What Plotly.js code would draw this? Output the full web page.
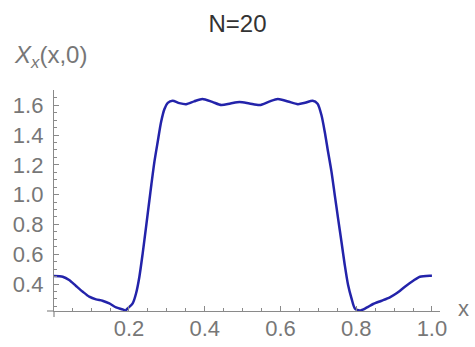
<!DOCTYPE html>
<html>
<head>
<meta charset="utf-8">
<script src="https://cdn.plot.ly/plotly-3.0.1.min.js"></script>
<style>html,body{margin:0;padding:0;background:#fff;}#chart{width:475px;height:347px;}</style>
</head>
<body>
<div id="chart"></div>
<script>
// Values
var xValues = [0, 0.025, 0.042, 0.06, 0.078, 0.095, 0.113, 0.13, 0.148, 0.166, 0.1833, 0.1905, 0.1966, 0.2098, 0.2188, 0.2275, 0.2362, 0.2452, 0.254, 0.2593, 0.2672, 0.2759, 0.2849, 0.2937, 0.3024, 0.315, 0.333, 0.351, 0.372, 0.394, 0.42, 0.444, 0.468, 0.492, 0.518, 0.545, 0.57, 0.593, 0.62, 0.646, 0.665, 0.685, 0.698, 0.7082, 0.7169, 0.7257, 0.7347, 0.7434, 0.7521, 0.7611, 0.7698, 0.7786, 0.7876, 0.7963, 0.8095, 0.8272, 0.8447, 0.8669, 0.8889, 0.9066, 0.9286, 0.9505, 0.9683, 0.9947, 1.0];
var yValues = [0.454, 0.449, 0.427, 0.387, 0.348, 0.315, 0.297, 0.288, 0.27, 0.243, 0.230, 0.222, 0.237, 0.270, 0.338, 0.449, 0.606, 0.785, 0.964, 1.071, 1.221, 1.355, 1.489, 1.575, 1.615, 1.630, 1.614, 1.607, 1.626, 1.642, 1.622, 1.601, 1.612, 1.622, 1.612, 1.601, 1.624, 1.642, 1.625, 1.607, 1.616, 1.630, 1.610, 1.534, 1.422, 1.288, 1.154, 0.997, 0.841, 0.684, 0.528, 0.393, 0.304, 0.237, 0.222, 0.241, 0.266, 0.288, 0.311, 0.338, 0.382, 0.422, 0.449, 0.456, 0.456];
var chartTitle = 'N=20';
var yTitle = '<i>X</i><sub><i>x</i></sub>(x,0)';
var xTitle = 'x';

var axisColor = '#8a8a8a';
var labelColor = '#777777';
var fontFamily = 'Liberation Sans, Arial, sans-serif';

var trace = {
  x: xValues, y: yValues, type: 'scatter', mode: 'lines',
  line: {color: '#2323aa', width: 2.5, shape: 'spline', smoothing: 0.7},
  hoverinfo: 'none'
};

var layout = {
  width: 475, height: 347,
  margin: {l: 54, r: 35, t: 90, b: 36, pad: 0},
  paper_bgcolor: '#ffffff', plot_bgcolor: '#ffffff',
  showlegend: false,
  title: {text: chartTitle, x: 0.5, xref: 'container', xanchor: 'center', y: 0.931, yref: 'container', yanchor: 'middle',
          font: {family: fontFamily, size: 24, color: '#333333'}},
  xaxis: {
    range: [0.002, 1.0213], showgrid: false, zeroline: false,
    showline: true, linecolor: axisColor, linewidth: 1.2,
    ticks: 'inside', ticklen: 5, tickwidth: 1, tickcolor: axisColor,
    tickmode: 'linear', tick0: 0, dtick: 0.2, tickformat: '.1f',
    minor: {ticks: 'inside', ticklen: 3, tickcolor: axisColor, dtick: 0.05, tick0: 0, showgrid: false},
    tickfont: {family: fontFamily, size: 22, color: labelColor},
    ticklabelstandoff: -3, fixedrange: true
  },
  yaxis: {
    range: [0.219, 1.702], showgrid: false, zeroline: false,
    showline: true, linecolor: axisColor, linewidth: 1.2,
    ticks: 'inside', ticklen: 5, tickwidth: 1, tickcolor: axisColor,
    tickmode: 'linear', tick0: 0, dtick: 0.2, tickformat: '.1f',
    minor: {ticks: 'inside', ticklen: 3, tickcolor: axisColor, dtick: 0.05, tick0: 0, showgrid: false},
    tickfont: {family: fontFamily, size: 22, color: labelColor},
    ticklabelstandoff: 5, fixedrange: true
  },
  shapes: [
    {type: 'line', xref: 'paper', yref: 'paper', x0: -7/386, x1: 0, y0: 0, y1: 0, line: {color: axisColor, width: 1.2}},
    {type: 'line', xref: 'paper', yref: 'paper', x0: 0, x1: 0, y0: -6/221, y1: 0, line: {color: axisColor, width: 1.2}}
  ],
  annotations: [
    {text: yTitle, xref: 'paper', yref: 'paper', x: -0.1088, y: 1.152, xanchor: 'left', yanchor: 'middle', showarrow: false,
     font: {family: fontFamily, size: 24, color: labelColor}},
    {text: xTitle, xref: 'paper', yref: 'paper', x: 1.062, y: 0.01, xanchor: 'center', yanchor: 'middle', showarrow: false,
     font: {family: fontFamily, size: 22, color: labelColor}}
  ]
};

Plotly.newPlot('chart', [trace], layout, {staticPlot: true, displayModeBar: false});
</script>
</body>
</html>
